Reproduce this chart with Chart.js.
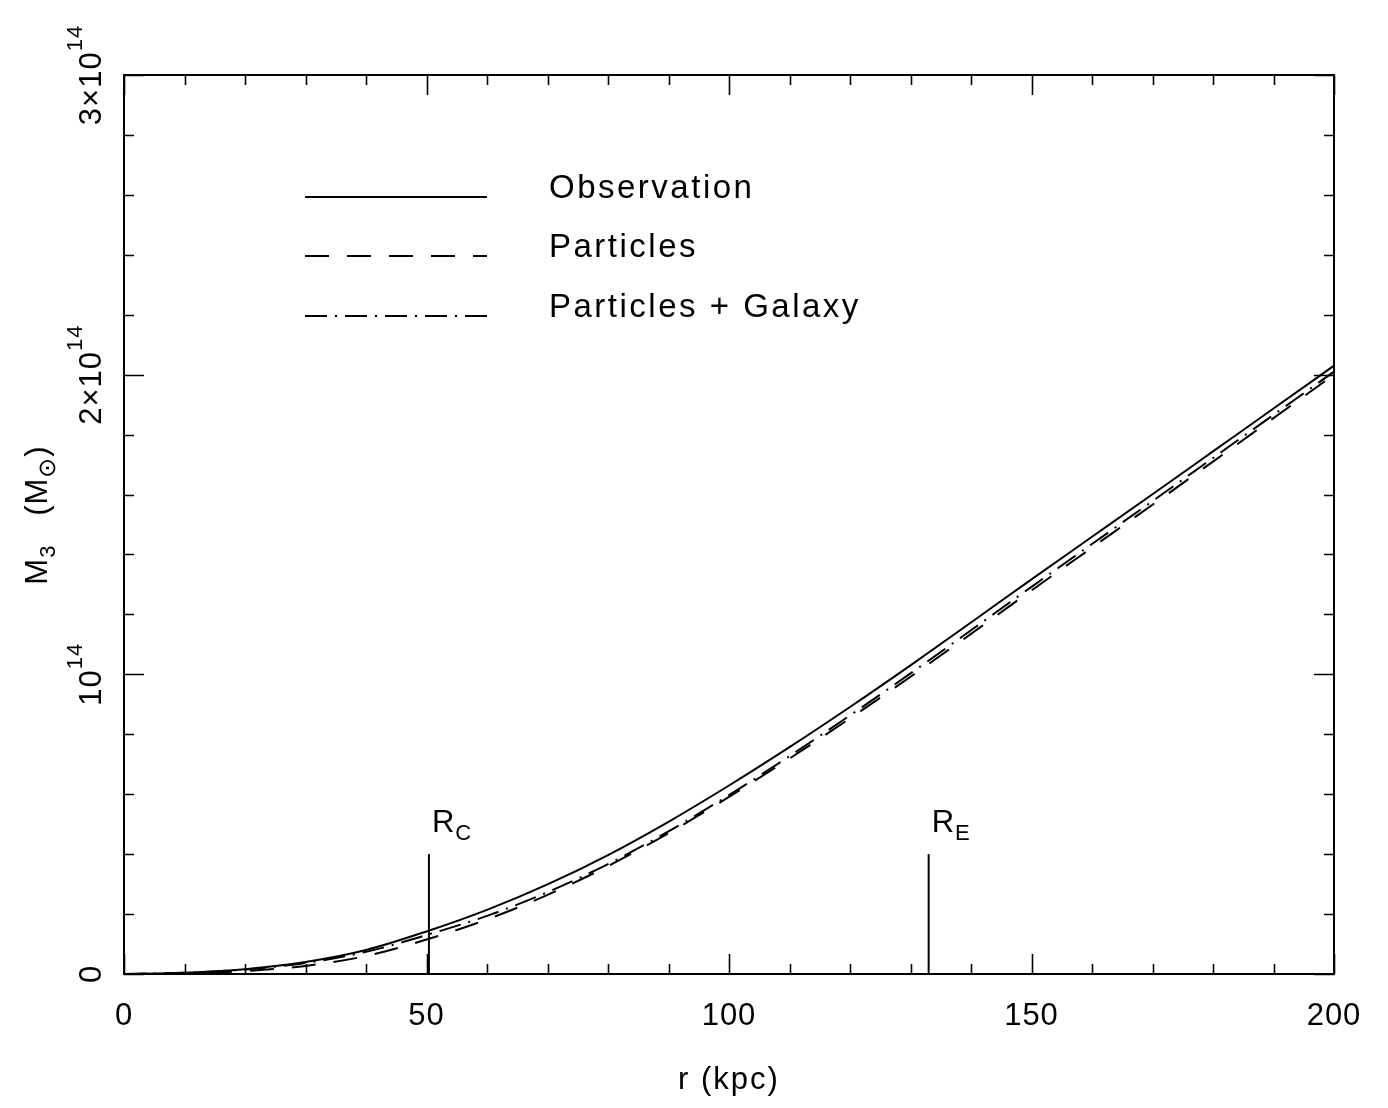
<!DOCTYPE html>
<html>
<head>
<meta charset="utf-8">
<script src="https://cdn.jsdelivr.net/npm/chart.js@4/dist/chart.umd.min.js"></script>
<style>
  html, body { margin: 0; padding: 0; background: #fff; }
  #wrap { width: 1388px; height: 1108px; position: relative; }
</style>
</head>
<body>
<div id="wrap"><canvas id="c"></canvas></div>
<script>
// ---- data (mass in units of 10^14 Msun, radius in kpc) ----
const radius = [0, 10, 20, 30, 40, 50, 60, 70, 80, 90, 100, 110, 120, 130, 140, 150, 160, 170, 180, 190, 200];
const observation = [0, 0.004, 0.016, 0.040, 0.080, 0.142, 0.214, 0.299, 0.397, 0.508, 0.629, 0.757, 0.891, 1.030, 1.173, 1.317, 1.459, 1.601, 1.744, 1.887, 2.030];
const particles = [0, 0.002, 0.010, 0.027, 0.060, 0.115, 0.182, 0.264, 0.360, 0.470, 0.591, 0.719, 0.853, 0.992, 1.135, 1.280, 1.423, 1.566, 1.710, 1.855, 2.000];
const particlesGalaxy = [0, 0.004, 0.015, 0.037, 0.074, 0.130, 0.194, 0.273, 0.367, 0.476, 0.597, 0.727, 0.863, 1.003, 1.147, 1.292, 1.435, 1.578, 1.722, 1.866, 2.010];
const seriesNames = ['Observation', 'Particles', 'Particles + Galaxy'];
const markerRadii = [50.4, 133];
const markerSubs = ['C', 'E'];
const markerHeight = 0.4;
const xTickLabels = [0, 50, 100, 150, 200];
const yTickValues = [0, 1, 2, 3];
const yTickPrefix = ['0', '', '2\u00d7', '3\u00d7'];

const FONT = '"Liberation Sans", Arial, sans-serif';

function pts(ys) { return radius.map((r, i) => ({ x: r, y: ys[i] })); }
function markerPts(r) { return [{ x: r, y: 0 }, { x: r, y: markerHeight }]; }

const dashPattern = [24, 18];
const dashDotPattern = [22, 8, 2, 8];

function drawRich(ctx, parts, x, y, align) {
  let w = 0;
  for (const p of parts) {
    ctx.font = p.size + 'px ' + FONT;
    p.w = ctx.measureText(p.t).width;
    w += p.w;
  }
  let cx = align === 'center' ? x - w / 2 : (align === 'right' ? x - w : x);
  for (const p of parts) {
    ctx.font = p.size + 'px ' + FONT;
    ctx.fillText(p.t, cx, y + (p.dy || 0));
    cx += p.w;
  }
}

const decor = {
  id: 'decor',
  afterDraw(chart) {
    const ctx = chart.ctx;
    const xs = chart.scales.x, ys = chart.scales.y;
    const L = xs.left, R = xs.right, T = ys.top, B = ys.bottom;
    ctx.save();
    ctx.strokeStyle = '#000';
    ctx.fillStyle = '#000';
    ctx.lineWidth = 2;
    ctx.setLineDash([]);
    ctx.strokeRect(L, T, R - L, B - T);
    ctx.lineWidth = 1.6;
    ctx.beginPath();
    for (let v = 0; v <= 200; v += 10) {
      const px = Math.round(xs.getPixelForValue(v)) + 0.5;
      const len = (v % 50 === 0) ? 20 : 10;
      ctx.moveTo(px, B); ctx.lineTo(px, B - len);
      ctx.moveTo(px, T); ctx.lineTo(px, T + len);
    }
    for (let k = 0; k <= 15; k++) {
      const v = k * 0.2;
      const py = Math.round(ys.getPixelForValue(v)) + 0.5;
      const len = (k % 5 === 0) ? 20 : 10;
      ctx.moveTo(L, py); ctx.lineTo(L + len, py);
      ctx.moveTo(R, py); ctx.lineTo(R - len, py);
    }
    ctx.stroke();

    ctx.textBaseline = 'alphabetic';
    ctx.textAlign = 'left';
    ctx.letterSpacing = '1px';
    for (const v of xTickLabels) {
      drawRich(ctx, [{ t: String(v), size: 31 }], xs.getPixelForValue(v), 1025, 'center');
    }
    ctx.letterSpacing = '2px';
    drawRich(ctx, [{ t: 'r (kpc)', size: 31 }], (L + R) / 2, 1089, 'center');

    ctx.letterSpacing = '1px';
    yTickValues.forEach((v, i) => {
      const py = ys.getPixelForValue(v);
      ctx.save();
      ctx.translate(101, py);
      ctx.rotate(-Math.PI / 2);
      let parts;
      if (v === 0) parts = [{ t: '0', size: 31 }];
      else parts = [{ t: yTickPrefix[i] + '10', size: 31 }, { t: '14', size: 22, dy: -19 }];
      drawRich(ctx, parts, 0, 0, 'center');
      ctx.restore();
    });

    ctx.save();
    ctx.translate(47, 515);
    ctx.rotate(-Math.PI / 2);
    drawRich(ctx, [
      { t: 'M', size: 31 }, { t: '3', size: 22, dy: 8 },
      { t: '   (M', size: 31 }, { t: '\u2299', size: 24, dy: 8 }, { t: ')', size: 31 }
    ], 0, 0, 'center');
    ctx.restore();

    markerRadii.forEach((r, i) => {
      const px = xs.getPixelForValue(r) + 3;
      const py = ys.getPixelForValue(markerHeight) - 22;
      drawRich(ctx, [{ t: 'R', size: 31 }, { t: markerSubs[i], size: 22, dy: 8 }], px, py, 'left');
    });

    ctx.letterSpacing = '2.5px';
    const legY = [197, 256, 316];
    const dashes = [[], dashPattern, dashDotPattern];
    ctx.lineWidth = 2;
    legY.forEach((yy, i) => {
      ctx.setLineDash(dashes[i]);
      ctx.beginPath();
      ctx.moveTo(305, yy); ctx.lineTo(487, yy);
      ctx.stroke();
      ctx.setLineDash([]);
      drawRich(ctx, [{ t: seriesNames[i], size: 33 }], 549, yy + 1, 'left');
    });
    ctx.restore();
  }
};

const lineBase = { borderColor: '#000', borderWidth: 2, pointRadius: 0, fill: false, cubicInterpolationMode: 'monotone' };

new Chart(document.getElementById('c'), {
  type: 'line',
  data: {
    datasets: [
      Object.assign({ label: seriesNames[0], data: pts(observation) }, lineBase),
      Object.assign({ label: seriesNames[1], data: pts(particles), borderDash: dashPattern }, lineBase),
      Object.assign({ label: seriesNames[2], data: pts(particlesGalaxy), borderDash: dashDotPattern }, lineBase),
      { label: 'R_C', data: markerPts(markerRadii[0]), borderColor: '#000', borderWidth: 2, pointRadius: 0 },
      { label: 'R_E', data: markerPts(markerRadii[1]), borderColor: '#000', borderWidth: 2, pointRadius: 0 }
    ]
  },
  options: {
    responsive: true,
    maintainAspectRatio: false,
    animation: false,
    devicePixelRatio: 1,
    layout: { padding: { left: 124, right: 54, top: 75, bottom: 134 } },
    scales: {
      x: { type: 'linear', min: 0, max: 200, display: false },
      y: { type: 'linear', min: 0, max: 3, display: false }
    },
    plugins: { legend: { display: false }, tooltip: { enabled: false } }
  },
  plugins: [decor]
});
</script>
</body>
</html>
